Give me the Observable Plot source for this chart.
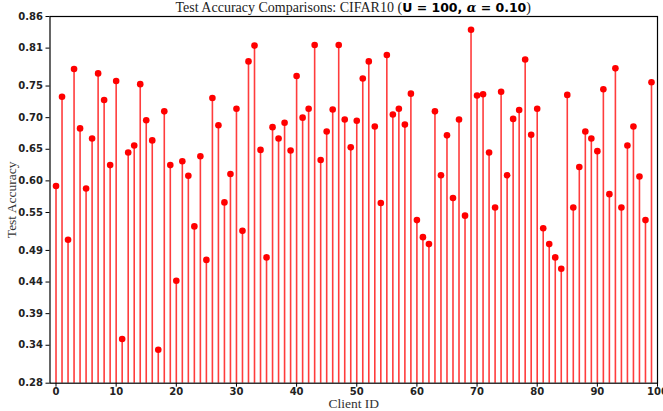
<!DOCTYPE html>
<html>
<head>
<meta charset="utf-8">
<script src="https://cdn.jsdelivr.net/npm/d3@7"></script>
<script src="https://cdn.jsdelivr.net/npm/@observablehq/plot@0.6"></script>
<style>
  html, body { margin: 0; padding: 0; background: #fff; }
  #wrap { position: relative; width: 663px; height: 411px; }
  #title { position: absolute; top: 0; left: 49.5px; width: 607.5px; text-align: center;
           font-family: "Liberation Serif", "DejaVu Serif", serif; font-size: 14px; line-height: 16px; color: #222; white-space: nowrap; }
  #title b { font-family: "DejaVu Sans", sans-serif; font-size: 12.5px; font-weight: bold; color: #000; }
  #title i { font-family: "DejaVu Serif", serif; font-style: italic; font-weight: bold; }
</style>
</head>
<body>
<div id="wrap">
  <div id="title">Test Accuracy Comparisons: CIFAR10 (<b>U = 100, <i>α</i> = 0.10</b>)</div>
</div>
<script>
const clientIds = d3.range(0, 100);
const accuracy = [
  0.592, 0.733, 0.507, 0.777, 0.683, 0.588, 0.667, 0.770, 0.728, 0.625,
  0.758, 0.350, 0.645, 0.656, 0.753, 0.696, 0.664, 0.333, 0.710, 0.625,
  0.442, 0.631, 0.608, 0.528, 0.639, 0.475, 0.731, 0.688, 0.566, 0.611,
  0.714, 0.521, 0.789, 0.814, 0.649, 0.479, 0.685, 0.667, 0.692, 0.648,
  0.766, 0.700, 0.714, 0.815, 0.633, 0.678, 0.713, 0.815, 0.697, 0.653,
  0.695, 0.762, 0.789, 0.686, 0.565, 0.799, 0.705, 0.714, 0.689, 0.738,
  0.538, 0.511, 0.500, 0.710, 0.609, 0.672, 0.573, 0.697, 0.545, 0.839,
  0.735, 0.737, 0.645, 0.558, 0.741, 0.609, 0.698, 0.712, 0.792, 0.673,
  0.714, 0.525, 0.500, 0.479, 0.461, 0.736, 0.558, 0.622, 0.678, 0.667,
  0.647, 0.745, 0.579, 0.778, 0.558, 0.656, 0.686, 0.607, 0.538, 0.756
];
const yTicks = [0.28, 0.34, 0.39, 0.44, 0.49, 0.55, 0.60, 0.65, 0.70, 0.75, 0.81, 0.86];
const xTicks = [0, 10, 20, 30, 40, 50, 60, 70, 80, 90, 100];
const yBase = 0.28;

const data = clientIds.map((id, i) => ({id, acc: accuracy[i]}));

const chart = Plot.plot({
  width: 663,
  height: 411,
  marginLeft: 49.5,
  marginRight: 6,
  marginTop: 16,
  marginBottom: 28.3,
  style: {background: "#fff", overflow: "visible"},
  x: {domain: [-1, 100]},
  y: {domain: [0.28, 0.86]},
  marks: [
    Plot.ruleX(data, {x: "id", y1: yBase, y2: "acc", stroke: "#ff1a1a", strokeOpacity: 0.85, strokeWidth: 1.6}),
    Plot.dot(data, {x: "id", y: "acc", r: 3.3, fill: "red", stroke: "none"}),
    Plot.frame({stroke: "#000", strokeWidth: 1.2}),
    Plot.axisY({ticks: yTicks, tickFormat: d3.format(".2f"), tickSize: 4, tickPadding: 3,
      fontSize: 10, fontWeight: "bold", fontFamily: "DejaVu Sans, sans-serif", fill: "#222", stroke: "#000",
      label: null}),
    Plot.axisX({ticks: xTicks, tickFormat: d3.format("d"), tickSize: 4, tickPadding: 1,
      fontSize: 10, fontWeight: "bold", fontFamily: "DejaVu Sans, sans-serif", fill: "#222", stroke: "#000",
      label: null}),
    Plot.text(["Test Accuracy"], {frameAnchor: "left", dx: -38, rotate: -90, fontSize: 13.5,
      fontFamily: "Liberation Serif, DejaVu Serif, serif", fill: "#333", textAnchor: "middle"}),
    Plot.text(["Client ID"], {frameAnchor: "bottom", dy: 20.5, fontSize: 13.5,
      fontFamily: "Liberation Serif, DejaVu Serif, serif", fill: "#333", lineAnchor: "middle"})
  ]
});
document.getElementById("wrap").prepend(chart);
chart.style.position = "absolute";
chart.style.left = "0";
chart.style.top = "0";
document.getElementById("title").style.zIndex = "2";
</script>
</body>
</html>
